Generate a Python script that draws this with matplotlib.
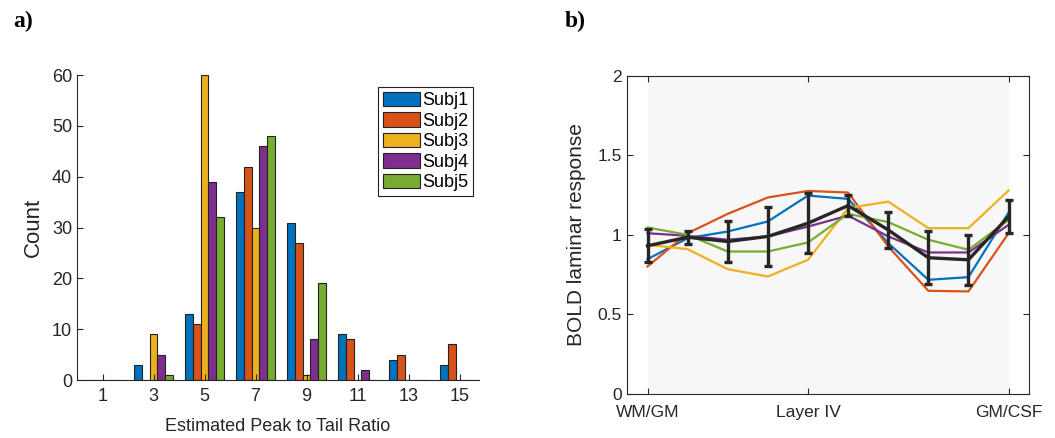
import matplotlib
matplotlib.use("Agg")
import matplotlib.pyplot as plt
import numpy as np

plt.rcParams['font.family'] = ['Liberation Sans', 'DejaVu Sans']

# histogram counts per subject (bins centred at odd ratios)
bin_centers = [1, 3, 5, 7, 9, 11, 13, 15]
subj_names = ['Subj1', 'Subj2', 'Subj3', 'Subj4', 'Subj5']
subj1_counts = [0, 3, 13, 37, 31, 9, 4, 3]
subj2_counts = [0, 0, 11, 42, 27, 8, 5, 7]
subj3_counts = [0, 9, 60, 30, 1, 0, 0, 0]
subj4_counts = [0, 5, 39, 46, 8, 2, 0, 0]
subj5_counts = [0, 1, 32, 48, 19, 0, 0, 0]

# laminar profiles, 10 depth bins from WM/GM to GM/CSF
depth = np.arange(1, 11)
subj1_prof = [0.848, 0.980, 1.022, 1.085, 1.248, 1.227, 0.949, 0.718, 0.735, 1.141]
subj2_prof = [0.802, 1.011, 1.133, 1.236, 1.277, 1.267, 0.928, 0.649, 0.645, 1.011]
subj3_prof = [0.938, 0.911, 0.785, 0.739, 0.844, 1.169, 1.210, 1.043, 1.043, 1.280]
subj4_prof = [1.011, 0.995, 0.970, 0.991, 1.053, 1.122, 0.991, 0.890, 0.890, 1.064]
subj5_prof = [1.047, 1.001, 0.896, 0.896, 0.953, 1.133, 1.081, 0.970, 0.907, 1.095]
mean_prof = [0.932, 0.986, 0.959, 0.991, 1.074, 1.185, 1.032, 0.857, 0.844, 1.116]
err_prof = [0.103, 0.041, 0.132, 0.188, 0.190, 0.065, 0.112, 0.168, 0.158, 0.104]
depth_ticks = [1, 5, 10]
depth_labels = ['WM/GM', 'Layer IV', 'GM/CSF']

colors = ['#0072BD', '#D95319', '#EDB120', '#7E2F8E', '#77AC30']
axcol = '#262626'

fig = plt.figure(figsize=(10.55, 4.38), dpi=100)

# ---- a) histogram
ax1 = fig.add_axes([0.073, 0.1324, 0.381, 0.696])
counts = [subj1_counts, subj2_counts, subj3_counts, subj4_counts, subj5_counts]
bw = 0.3
x = np.array(bin_centers)
for i, c in enumerate(counts):
    ax1.bar(x + (i - 2) * bw, c, width=bw, color=colors[i], edgecolor='#222222',
            linewidth=0.8, label=subj_names[i])
ax1.set_xlim(0, 15.76)
ax1.set_ylim(0, 60)
ax1.set_xticks(bin_centers)
ax1.set_yticks(range(0, 61, 10))
ax1.spines['top'].set_visible(False)
ax1.spines['right'].set_visible(False)
for s in ['left', 'bottom']:
    ax1.spines[s].set_color(axcol)
    ax1.spines[s].set_linewidth(0.8)
ax1.tick_params(direction='in', length=4, width=0.8, colors=axcol, labelsize=13)
ax1.tick_params(axis='x', pad=6)
ax1.set_xlabel('Estimated Peak to Tail Ratio', fontsize=13, color=axcol, labelpad=9)
ax1.set_ylabel('Count', fontsize=16, color=axcol, labelpad=6)
leg = ax1.legend(loc='upper right', bbox_to_anchor=(0.985, 0.96), fontsize=13,
                 frameon=True, fancybox=False, edgecolor='#222222', framealpha=1,
                 handlelength=2.1, handleheight=0.85, handletextpad=0.1,
                 labelspacing=0.17, borderpad=0.25, borderaxespad=0)
leg.get_frame().set_linewidth(0.8)

fig.text(0.022, 0.95, 'a)', fontsize=17, fontweight='bold', family='Liberation Serif',
         ha='center', va='center')

# ---- b) laminar profiles
ax2 = fig.add_axes([0.594, 0.1005, 0.381, 0.726])
ax2.axvspan(1, 10, color='#F7F7F7', zorder=0, lw=0)
profs = [subj1_prof, subj2_prof, subj3_prof, subj4_prof, subj5_prof]
for i, p in enumerate(profs):
    ax2.plot(depth, p, color=colors[i], lw=1.6, zorder=2)
ax2.errorbar(depth, mean_prof, yerr=err_prof, color='#262626', lw=2.4,
             elinewidth=2.4, capsize=3, capthick=2.4, zorder=3)
ax2.set_xlim(0.48, 10.5)
ax2.set_ylim(0, 2)
ax2.set_yticks([0, 0.5, 1, 1.5, 2])
ax2.set_yticklabels(['0', '0.5', '1', '1.5', '2'])
ax2.set_xticks(depth_ticks)
ax2.set_xticklabels(depth_labels)
for s in ax2.spines.values():
    s.set_color(axcol)
    s.set_linewidth(0.8)
ax2.tick_params(direction='in', length=4, width=0.8, colors=axcol, labelsize=12.5,
                top=True, right=True)
ax2.tick_params(axis='x', pad=8)
ax2.set_ylabel('BOLD laminar response', fontsize=15, color=axcol, labelpad=8)

fig.text(0.545, 0.95, 'b)', fontsize=17, fontweight='bold', family='Liberation Serif',
         ha='center', va='center')

fig.savefig('out.png', dpi=100)
